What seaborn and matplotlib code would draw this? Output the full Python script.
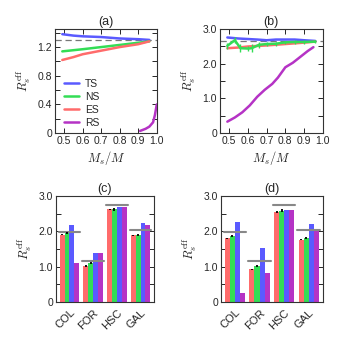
import numpy as np
import pandas as pd
import matplotlib
matplotlib.use("Agg")
import matplotlib.pyplot as plt
import seaborn as sns

sns.set_theme(style="ticks")
plt.rcParams['font.family'] = ['Liberation Sans', 'DejaVu Sans']
plt.rcParams['mathtext.fontset'] = 'cm'
plt.rcParams['xtick.direction'] = 'in'
plt.rcParams['ytick.direction'] = 'in'

# ---------------- data ----------------
colors = {"TS": "#5a5aff", "NS": "#33dd55", "ES": "#ff6b6b", "RS": "#b533c5"}

# panel (a)
a_ts_x = [0.49, 0.55, 0.60, 0.70, 0.80, 0.90, 0.96]
a_ts_y = [1.38, 1.36, 1.35, 1.34, 1.32, 1.31, 1.30]
a_ns_x = [0.49, 0.60, 0.70, 0.80, 0.90, 0.96]
a_ns_y = [1.14, 1.17, 1.20, 1.23, 1.26, 1.28]
a_es_x = [0.49, 0.55, 0.60, 0.70, 0.80, 0.90, 0.96]
a_es_y = [1.02, 1.06, 1.10, 1.15, 1.20, 1.24, 1.28]
a_rs_x = [0.91, 0.94, 0.96, 0.98, 0.99, 1.00]
a_rs_y = [0.03, 0.06, 0.09, 0.15, 0.25, 0.40]
a_ref = 1.30

# panel (b)
b_ts_x = [0.49, 0.55, 0.65, 0.70, 0.75, 0.85, 0.90, 0.96]
b_ts_y = [2.76, 2.73, 2.70, 2.68, 2.70, 2.70, 2.68, 2.66]
b_es_x = [0.49, 0.55, 0.60, 0.70, 0.80, 0.90, 0.96]
b_es_y = [2.45, 2.47, 2.50, 2.53, 2.57, 2.61, 2.64]
b_ns_x = [0.49, 0.53, 0.56, 0.60, 0.62, 0.66, 0.70, 0.75, 0.80, 0.85, 0.90, 0.96]
b_ns_y = [2.52, 2.68, 2.45, 2.44, 2.45, 2.55, 2.57, 2.58, 2.62, 2.63, 2.63, 2.64]
b_ns_err = [0.08, 0.08, 0.12, 0.08, 0.12, 0.08, 0.05, 0.06, 0.05, 0.05, 0.05, 0.04]
b_rs_x = [0.49, 0.53, 0.57, 0.61, 0.65, 0.69, 0.73, 0.76, 0.80, 0.84, 0.88, 0.92, 0.95]
b_rs_y = [0.33, 0.45, 0.60, 0.80, 1.05, 1.25, 1.42, 1.60, 1.90, 2.03, 2.20, 2.37, 2.48]
b_ref = 2.66

# panels (c), (d)
categories = ["COL", "FOR", "HSC", "GAL"]
methods = ["ES", "NS", "TS", "RS"]
c_es = [1.90, 1.02, 2.62, 1.88]
c_ns = [1.94, 1.09, 2.62, 1.88]
c_ts = [2.17, 1.39, 2.68, 2.22]
c_rs = [1.11, 1.39, 2.68, 2.18]
d_es = [1.80, 0.92, 2.54, 1.76]
d_ns = [1.86, 1.01, 2.58, 1.80]
d_ts = [2.25, 1.52, 2.60, 2.20]
d_rs = [0.26, 0.81, 2.59, 2.01]
es_err = [0.02, 0.02, 0.02, 0.02]
ns_err = [0.03, 0.03, 0.04, 0.03]
ref_bar = [1.98, 1.16, 2.75, 2.02]

# ---------------- figure ----------------
fig = plt.figure(figsize=(3.43, 3.43), dpi=100)
fs = 7.5
ylab = r"$R_s^{\rm eff}$"

def style(ax):
    ax.tick_params(which='both', top=True, right=True, labelsize=fs, length=3.5, width=0.7, pad=2)
    for s in ax.spines.values():
        s.set_linewidth(0.8)
        s.set_color('#333333')

def line_panel(ax, series, ref, yl, yticks, ylabels, yminor, title, legend=False):
    for name, xs, ys in series:
        df = pd.DataFrame({"x": xs, "y": ys})
        sns.lineplot(data=df, x="x", y="y", ax=ax, color=colors[name], lw=1.8,
                     sort=False, label=name if legend else None)
    ax.axhline(ref, color='#777777', ls=(0, (5, 3)), lw=0.9, zorder=0)
    ax.set_xlim(0.45, 1.0)
    ax.set_ylim(*yl)
    ax.set_xticks([0.5, 0.6, 0.7, 0.8, 0.9, 1.0])
    ax.set_xticklabels(["0.5", "0.6", "0.7", "0.8", "0.9", "1.0"])
    ax.set_yticks(yticks)
    ax.set_yticklabels(ylabels)
    ax.set_yticks(yminor, minor=True)
    ax.set_xlabel(r"$M_s/M$", fontsize=9, labelpad=2)
    ax.set_ylabel(ylab, fontsize=9, labelpad=3)
    ax.set_title(title, fontsize=9, pad=3)
    style(ax)

axa = fig.add_axes([0.160, 0.612, 0.297, 0.303])
line_panel(axa, [("TS", a_ts_x, a_ts_y), ("NS", a_ns_x, a_ns_y),
                 ("ES", a_es_x, a_es_y), ("RS", a_rs_x, a_rs_y)],
           a_ref, (0, 1.45), [0, 0.4, 0.8, 1.2], ["0", "0.4", "0.8", "1.2"],
           [0.2, 0.6, 1.0, 1.4], "(a)", legend=True)
axa.legend(loc='lower left', bbox_to_anchor=(0.02, -0.02), frameon=False, fontsize=fs,
           handlelength=1.4, handletextpad=0.6, labelspacing=0.28, borderaxespad=0.3)

axb = fig.add_axes([0.641, 0.612, 0.300, 0.303])
line_panel(axb, [("TS", b_ts_x, b_ts_y), ("ES", b_es_x, b_es_y),
                 ("NS", b_ns_x, b_ns_y), ("RS", b_rs_x, b_rs_y)],
           b_ref, (0, 3.0), [0, 1.0, 2.0, 3.0], ["0", "1.0", "2.0", "3.0"],
           [0.5, 1.5, 2.5], "(b)")
axb.errorbar(b_ns_x, b_ns_y, yerr=b_ns_err, fmt='none', ecolor=colors["NS"],
             elinewidth=1.0, capsize=0)

def bar_panel(ax, es, ns, ts, rs, title):
    vals = {"ES": es, "NS": ns, "TS": ts, "RS": rs}
    rows = []
    for m in methods:
        for c, v in zip(categories, vals[m]):
            rows.append({"cat": c, "method": m, "val": v})
    df = pd.DataFrame(rows)
    sns.barplot(data=df, x="cat", y="val", hue="method", hue_order=methods,
                order=categories, palette=colors, width=0.82, gap=0,
                errorbar=None, saturation=1, ax=ax, legend=False, linewidth=0)
    patches = ax.patches
    n = len(categories)
    for k, (m, errs, ys) in enumerate([("ES", es_err, es), ("NS", ns_err, ns)]):
        for i in range(n):
            p = patches[k * n + i]
            xc = p.get_x() + p.get_width() / 2
            ax.errorbar([xc], [ys[i]], yerr=[errs[i]], fmt='none', ecolor='black',
                        elinewidth=1.3, capsize=0, zorder=4)
    for i, r in enumerate(ref_bar):
        ax.plot([i - 0.46, i + 0.46], [r, r], color='#888888', lw=1.5, zorder=3)
    ax.set_xlim(-0.57, 3.57)
    ax.set_ylim(0, 3.0)
    ax.set_yticks([0, 1.0, 2.0, 3.0])
    ax.set_yticklabels(["0", "1.0", "2.0", "3.0"])
    ax.set_yticks([0.5, 1.5, 2.5], minor=True)
    ax.set_xticks(range(n))
    ax.set_xticklabels(categories, rotation=45, ha='right', rotation_mode='anchor')
    ax.set_xlabel("")
    ax.set_ylabel(ylab, fontsize=9, labelpad=3)
    ax.set_title(title, fontsize=9, pad=3)
    style(ax)
    ax.tick_params(axis='x', which='both', length=0, top=False, labelsize=fs + 0.5, pad=4)

axc = fig.add_axes([0.163, 0.120, 0.286, 0.309])
bar_panel(axc, c_es, c_ns, c_ts, c_rs, "(c)")
axd = fig.add_axes([0.644, 0.120, 0.297, 0.309])
bar_panel(axd, d_es, d_ns, d_ts, d_rs, "(d)")

fig.savefig("out.png", dpi=100)
